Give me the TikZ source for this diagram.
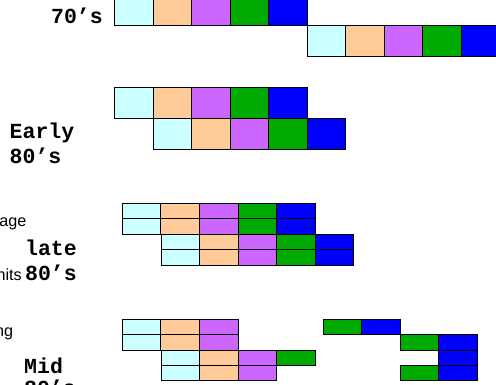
\documentclass[tikz,border=0pt]{standalone}
\usepackage{fontspec}
\newfontfamily\cour{Liberation Mono}
\newfontfamily\ari{Liberation Sans}
\definecolor{cy}{HTML}{CCFFFF}
\definecolor{orr}{HTML}{FFCC99}
\definecolor{pu}{HTML}{CC66FF}
\definecolor{gr}{HTML}{00AA00}
\definecolor{bl}{HTML}{0000FF}
\tikzset{
  cell/.style={draw=black, line width=0.9pt},
  era/.style={font=\cour\bfseries\fontsize{21.5}{24}\selectfont, inner sep=0pt},
  note/.style={font=\ari\fontsize{16.2}{18}\selectfont, inner sep=0pt}
}
\newcommand\rowcells[4]{%
  \foreach \c [count=\i from 0] in {#4} {\draw[cell, fill=\c] ({#1+\i*38.55},#2) rectangle ++(38.55,#3);}}
\begin{document}
\begin{tikzpicture}[x=1pt,y=-1pt]
\useasboundingbox (0,0) rectangle (496,385);
\clip (0,0) rectangle (496,385);
% 70's
\rowcells{114.5}{-5.3}{31}{cy,orr,pu,gr,bl}
\rowcells{307}{25.7}{31}{cy,orr,pu,gr,bl}
\node[era, anchor=base east] (l70) at (103,24) {70’s};
% Early 80's
\rowcells{114.5}{87.7}{31}{cy,orr,pu,gr,bl}
\rowcells{153}{118.7}{31}{cy,orr,pu,gr,bl}
\node[era, anchor=base west] (le1) at (9.5,138.5) {Early};
\node[era, anchor=base west] (le2) at (9.5,163.5) {80’s};
% late 80's
\rowcells{122.3}{203.3}{15.5}{cy,orr,pu,gr,bl}
\rowcells{122.3}{218.8}{15.5}{cy,orr,pu,gr,bl}
\rowcells{161}{234.3}{15.5}{cy,orr,pu,gr,bl}
\rowcells{161}{249.8}{15.5}{cy,orr,pu,gr,bl}
\node[note, anchor=base east] (age) at (26.5,226.7) {age};
\node[era, anchor=base west] (ll1) at (25,255.5) {late};
\node[note, anchor=base east] (hits) at (22,280) {hits};
\node[era, anchor=base west] (ll2) at (25,280) {80’s};
% Mid 80's
\rowcells{122.3}{319.3}{15.4}{cy,orr,pu}
\rowcells{122.3}{334.7}{15.4}{cy,orr,pu}
\rowcells{161}{350}{15.4}{cy,orr,pu,gr}
\rowcells{161}{365.4}{15.4}{cy,orr,pu}
\rowcells{323}{319.3}{15.4}{gr,bl}
\rowcells{400}{334.7}{15.4}{gr,bl}
\rowcells{438.7}{350}{15.4}{bl}
\rowcells{400}{365.4}{15.4}{gr,bl}
\node[note, anchor=base east] (ng) at (13.3,336.7) {ng};
\node[era, anchor=base west] (lm1) at (24,373.5) {Mid};
\node[era, anchor=base west] (lm2) at (24,395.5) {80’s};
\end{tikzpicture}
\end{document}
